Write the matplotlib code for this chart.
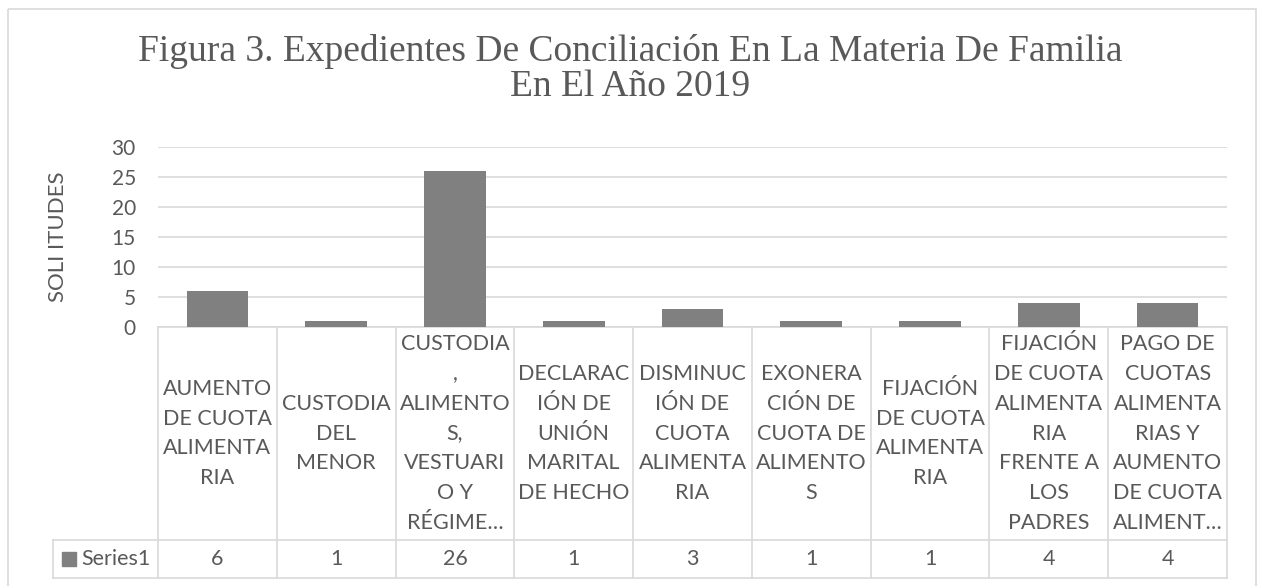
import numpy as np
import matplotlib.pyplot as plt
from matplotlib.transforms import blended_transform_factory
from matplotlib.patches import Rectangle

# datos de la figura
categorias = [
    "AUMENTO\nDE CUOTA\nALIMENTA\nRIA",
    "CUSTODIA\nDEL\nMENOR",
    "CUSTODIA\n,\nALIMENTO\nS,\nVESTUARI\nO Y\nRÉGIME…",
    "DECLARAC\nIÓN DE\nUNIÓN\nMARITAL\nDE HECHO",
    "DISMINUC\nIÓN DE\nCUOTA\nALIMENTA\nRIA",
    "EXONERA\nCIÓN DE\nCUOTA DE\nALIMENTO\nS",
    "FIJACIÓN\nDE CUOTA\nALIMENTA\nRIA",
    "FIJACIÓN\nDE CUOTA\nALIMENTA\nRIA\nFRENTE A\nLOS\nPADRES",
    "PAGO DE\nCUOTAS\nALIMENTA\nRIAS Y\nAUMENTO\nDE CUOTA\nALIMENT…",
]
valores = [6, 1, 26, 1, 3, 1, 1, 4, 4]
serie = "Series1"
ticks_y = [0, 5, 10, 15, 20, 25, 30]
titulo = ["Figura 3. Expedientes De Conciliación En La Materia De Familia",
          "En El Año 2019"]
eje_y = "SOLI ITUDES"

gris = "#808080"
texto = "#595959"
linea = "#d9d9d9"
fuente = "Lato"

W, H = 1264, 586
fig = plt.figure(figsize=(W / 100, H / 100), dpi=100)

# capa en pixeles para el marco y la tabla
over = fig.add_axes([0, 0, 1, 1])
over.set_xlim(0, W)
over.set_ylim(H, 0)
over.axis("off")
over.add_patch(Rectangle((8, 9), 1248, 590, fill=False, edgecolor=linea, lw=1.2, clip_on=False))

x0, x1, y_top = 158, 1227, 327
ax = fig.add_axes([x0 / W, 1 - y_top / H, (x1 - x0) / W, 180 / H])
x = np.arange(len(valores))
ax.bar(x, valores, width=0.52, color=gris, zorder=3)
ax.set_xlim(-0.5, len(valores) - 0.5)
ax.set_ylim(0, 30)
ax.set_yticks(ticks_y)
ax.set_xticks([])
ax.yaxis.grid(True, color=linea, lw=1.2, zorder=0)
for s in ["top", "right", "left"]:
    ax.spines[s].set_visible(False)
ax.spines["bottom"].set_color(linea)
ax.spines["bottom"].set_linewidth(1.2)
ax.tick_params(axis="y", length=0, pad=16, labelsize=15, labelcolor=texto)
for lab in ax.get_yticklabels():
    lab.set_fontfamily(fuente)

over.text(58, 237, eje_y, rotation=90, ha="center", va="center", fontsize=16,
          color=texto, fontfamily=fuente)

for linea_t, yb in zip(titulo, [61, 96]):
    over.text(W / 2 - 2, yb, linea_t, ha="center", va="baseline", fontsize=27,
              color=texto, fontfamily="Liberation Serif")

# tabla de datos
tr = blended_transform_factory(ax.transData, over.transData)
y_mid, y_bot = 540, 578
x_left = -0.5 + (53 - x0) / ((x1 - x0) / len(valores))
for i in range(len(valores) + 1):
    over.plot([i - 0.5, i - 0.5], [y_top, y_bot], color=linea, lw=1.2, transform=tr, clip_on=False)
over.plot([x_left, len(valores) - 0.5], [y_mid, y_mid], color=linea, lw=1.2, transform=tr, clip_on=False)
over.plot([x_left, len(valores) - 0.5], [y_bot, y_bot], color=linea, lw=1.2, transform=tr, clip_on=False)
over.plot([x_left, x_left], [y_mid, y_bot], color=linea, lw=1.2, transform=tr, clip_on=False)

for i, (cat, v) in enumerate(zip(categorias, valores)):
    over.text(i, (y_top + y_mid) / 2, cat, transform=tr, ha="center", va="center",
              fontsize=15.5, color=texto, fontfamily=fuente, linespacing=1.62)
    over.text(i, (y_mid + y_bot) / 2, str(v), transform=tr, ha="center", va="center",
              fontsize=15.5, color=texto, fontfamily=fuente)

over.add_patch(Rectangle((62, 552), 14, 14, color=gris))
over.text(81, (y_mid + y_bot) / 2, serie, ha="left", va="center", fontsize=15.5,
          color=texto, fontfamily=fuente)

fig.savefig("out.png", dpi=100)
